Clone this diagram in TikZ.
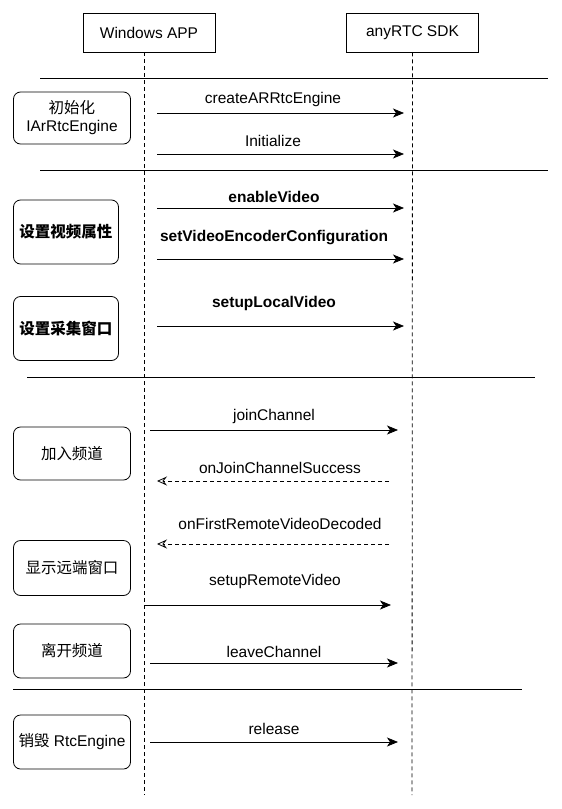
\documentclass[tikz,border=0pt]{standalone}
\usepackage{fontspec}
\setmainfont{Liberation Sans}
\newfontfamily\cjk{Noto Sans CJK SC}
\usetikzlibrary{arrows.meta}

\tikzset{
  actor/.style={draw, thick, minimum width=132pt, minimum height=39pt, inner sep=0pt},
  phase/.style={draw, thick, rounded corners=7pt, align=center, inner sep=0pt},
  lifeline/.style={dashed, thick, dash pattern=on 4pt off 3pt},
  sep/.style={thick},
  call/.style={thick, -{Stealth[length=11pt, width=9pt, inset=3pt]}},
  reply/.style={thick, dash pattern=on 4pt off 3pt, -{Stealth[open, length=10pt, width=9pt, inset=3.5pt]}},
  lbl/.style={inner sep=0pt}
}

\begin{document}
\begin{tikzpicture}[x=1pt, y=-1pt, font=\fontsize{15.5}{18}\selectfont]

\useasboundingbox (0,0) rectangle (562,809);

% actors and lifelines
\node (app) at (149, 32.5) [actor] {Windows APP};
\node (sdk) at (412.5, 32.5) [actor] {anyRTC SDK};
\coordinate (append) at (144, 795);
\coordinate (sdkend) at (412, 795);
\draw [lifeline] (144, 52) -- (append);
\draw [lifeline] (sdk.south) -- (sdkend);

% separators
\draw [sep] (40, 78) -- (548, 78);
\draw [sep] (40, 170) -- (548, 170);
\draw [sep] (27, 377) -- (535, 377);
\draw [sep] (13, 689) -- (522, 689);

% phases
\node (init) at (72, 118) [phase, minimum width=117pt, minimum height=52pt] {{\cjk 初始化}\\IArRtcEngine};
\node (video) at (66, 232) [phase, minimum width=105pt, minimum height=64pt] {\cjk\bfseries 设置视频属性};
\node (local) at (66, 328.5) [phase, minimum width=105pt, minimum height=64pt] {\cjk\bfseries 设置采集窗口};
\node (join) at (72, 453.5) [phase, minimum width=117pt, minimum height=53pt] {\cjk 加入频道};
\node (remote) at (72, 568) [phase, minimum width=117pt, minimum height=55pt] {\cjk 显示远端窗口};
\node (leave) at (72, 651) [phase, minimum width=117pt, minimum height=54pt] {\cjk 离开频道};
\node (destroy) at (72, 742) [phase, minimum width=117pt, minimum height=54pt] {{\cjk 销毁} RtcEngine};

% calls
\coordinate (c1a) at (157, 113); \coordinate (c1b) at (404, 113);
\draw [call] (c1a) -- (c1b);
\node (create) at (273, 99) [lbl] {createARRtcEngine};

\coordinate (c2a) at (157, 154); \coordinate (c2b) at (404, 154);
\draw [call] (c2a) -- (c2b);
\node (initialize) at (273, 141) [lbl] {Initialize};

\coordinate (c3a) at (157, 208); \coordinate (c3b) at (404, 208);
\draw [call] (c3a) -- (c3b);
\node (enable) at (274, 197) [lbl] {\bfseries enableVideo};

\coordinate (c4a) at (157, 259); \coordinate (c4b) at (404, 259);
\draw [call] (c4a) -- (c4b);
\node (encoder) at (274, 238) [lbl] {\bfseries setVideoEncoderConfiguration};

\coordinate (c5a) at (157, 326); \coordinate (c5b) at (404, 326);
\draw [call] (c5a) -- (c5b);
\node (setlocal) at (274, 303) [lbl] {\bfseries setupLocalVideo};

\coordinate (c6a) at (150, 430); \coordinate (c6b) at (398, 430);
\draw [call] (c6a) -- (c6b);
\node (joinch) at (274, 416) [lbl] {joinChannel};

\coordinate (r1a) at (389, 481); \coordinate (r1b) at (157, 481);
\draw [reply] (r1a) -- (r1b);
\node (joinok) at (280, 468) [lbl] {onJoinChannelSuccess};

\coordinate (r2a) at (389, 544); \coordinate (r2b) at (157, 544);
\draw [reply] (r2a) -- (r2b);
\node (firstframe) at (280, 524) [lbl] {onFirstRemoteVideoDecoded};

\coordinate (c7a) at (144, 605); \coordinate (c7b) at (391, 605);
\draw [call] (c7a) -- (c7b);
\node (setremote) at (275, 581) [lbl] {setupRemoteVideo};

\coordinate (c8a) at (150, 663); \coordinate (c8b) at (398, 663);
\draw [call] (c8a) -- (c8b);
\node (leavech) at (274, 652) [lbl] {leaveChannel};

\coordinate (c9a) at (150, 742); \coordinate (c9b) at (398, 742);
\draw [call] (c9a) -- (c9b);
\node (release) at (274, 729) [lbl] {release};

\end{tikzpicture}
\end{document}
